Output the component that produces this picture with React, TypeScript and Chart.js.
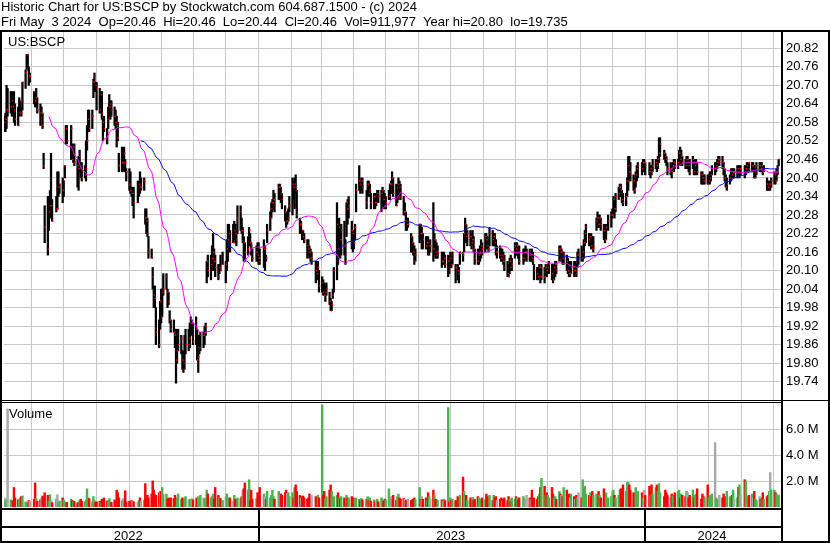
import React, { useEffect, useRef } from 'react';
import { Chart, registerables } from 'chart.js';

Chart.register(...registerables);

// ---------------- text ----------------
const TITLE = 'Historic Chart for US:BSCP by Stockwatch.com 604.687.1500 - (c) 2024';
const INFO = 'Fri May  3 2024  Op=20.46  Hi=20.46  Lo=20.44  Cl=20.46  Vol=911,977  Year hi=20.80  lo=19.735';
const SYMBOL = 'US:BSCP';
const VOLUME_LABEL = 'Volume';
const YEARS = ['2022', '2023', '2024'];

// ---------------- calendar ----------------
const FIRST_DAY = '2022-05-03';
const LAST_DAY = '2024-05-03';
const HOLIDAYS = [
  '2022-05-30', '2022-06-20', '2022-07-04', '2022-09-05', '2022-11-24', '2022-12-26',
  '2023-01-02', '2023-01-16', '2023-02-20', '2023-04-07', '2023-05-29', '2023-06-19',
  '2023-07-04', '2023-09-04', '2023-11-23', '2023-12-25',
  '2024-01-01', '2024-01-15', '2024-02-19', '2024-03-29',
];
const MONTHS = [
  '2022-05', '2022-06', '2022-07', '2022-08', '2022-09', '2022-10', '2022-11', '2022-12',
  '2023-01', '2023-02', '2023-03', '2023-04', '2023-05', '2023-06', '2023-07', '2023-08',
  '2023-09', '2023-10', '2023-11', '2023-12', '2024-01', '2024-02', '2024-03', '2024-04', '2024-05',
];

// ---------------- daily data, one row per month (prices in cents) ----------------
const highs: number[][] = [
  [2060,2061,2070,2069,2068,2068,2067,2068,2064,2063,2066,2065,2063,2071,2075,2080,2080,2076,2074,2068],
  [2068,2069,2066,2064,2063,2061,2048,2031,2034,2034,2036,2048,2033,2034,2042,2042,2038,2040,2039,2044,2057],
  [2057,2057,2051,2051,2051,2046,2047,2049,2045,2045,2044,2052,2057,2062,2062,2062,2072,2074,2071,2071],
  [2069,2068,2068,2060,2060,2056,2063,2067,2065,2065,2063,2062,2060,2058,2048,2050,2047,2050,2046,2043,2043,2042,2037],
  [2037,2037,2039,2039,2042,2040,2040,2030,2030,2027,2021,2017,2011,2005,2005,1998,1994,2000,2004,2004,2009],
  [2009,2004,2003,1997,1994,1994,1991,1991,1990,1991,1989,1984,1984,1989,1991,1991,1993,1995,1994,1993,1995],
  [1991,1989,1989,1990,1990,1992,1993,2013,2015,2015,2018,2022,2017,2015,2012,2012,2015,2016,2013,2020,2025],
  [2025,2023,2025,2026,2025,2023,2031,2031,2027,2024,2021,2019,2021,2024,2022,2019,2017,2018,2019,2019,2017],
  [2020,2018,2015,2025,2029,2032,2033,2036,2035,2038,2038,2037,2035,2031,2029,2029,2030,2034,2040,2039],
  [2040,2041,2036,2027,2026,2023,2023,2022,2020,2020,2018,2017,2016,2013,2012,2013,2010,2008,2007],
  [2006,2005,2006,2003,2001,2000,2004,2011,2032,2023,2027,2022,2025,2026,2020,2032,2033,2034,2026,2023,2023,2025,2038],
  [2044,2039,2040,2040,2036,2039,2039,2038,2035,2035,2035,2034,2036,2036,2036,2037,2036,2035,2034],
  [2036,2038,2039,2042,2040,2038,2036,2040,2039,2038,2034,2032,2029,2027,2027,2022,2021,2019,2018,2017,2025,2025],
  [2024,2022,2021,2021,2021,2019,2020,2032,2022,2020,2019,2018,2016,2015,2016,2015,2015,2014,2016,2015,2016],
  [2012,2012,2011,2016,2016,2022,2027,2025,2023,2023,2022,2023,2021,2017,2017,2016,2018,2020,2019,2022],
  [2022,2021,2020,2024,2023,2022,2022,2020,2018,2018,2017,2017,2016,2015,2013,2012,2014,2015,2014,2019,2019,2019,2018],
  [2018,2017,2017,2018,2017,2017,2016,2017,2016,2012,2011,2011,2012,2011,2012,2011,2012,2011,2012,2013],
  [2012,2011,2012,2013,2013,2018,2018,2017,2016,2016,2015,2014,2013,2012,2013,2013,2013,2012,2016,2017,2018,2017],
  [2020,2023,2025,2022,2022,2022,2021,2021,2027,2029,2028,2028,2027,2025,2024,2025,2028,2029,2030,2034,2033],
  [2035,2037,2038,2038,2036,2035,2035,2040,2047,2047,2045,2041,2040,2042,2044,2045,2045,2046,2046,2045],
  [2045,2044,2044,2046,2046,2046,2047,2053,2053,2049,2048,2047,2045,2045,2044,2045,2046,2046,2046,2049,2050],
  [2049,2047,2046,2047,2047,2046,2046,2047,2046,2045,2046,2045,2042,2042,2041,2041,2041,2041,2042,2042],
  [2044,2045,2045,2046,2047,2047,2047,2045,2043,2041,2040,2041,2043,2043,2043,2043,2044,2044,2044,2044],
  [2044,2044,2045,2045,2045,2045,2045,2044,2043,2045,2045,2045,2045,2044,2044,2040,2039,2039,2039,2040,2042,2041],
  [2043,2044,2046],
];
const lows: number[][] = [
  [2055,2055,2056,2060,2061,2060,2060,2058,2057,2057,2060,2062,2060,2062,2069,2075,2076,2070,2071,2064],
  [2063,2063,2061,2057,2060,2056,2043,2019,2015,2023,2027,2029,2026,2029,2030,2034,2035,2032,2034,2040,2051],
  [2051,2046,2046,2045,2044,2037,2036,2042,2040,2039,2040,2039,2049,2056,2055,2056,2066,2068,2068,2062],
  [2061,2061,2059,2052,2055,2051,2056,2060,2059,2060,2057,2056,2050,2052,2042,2042,2042,2043,2042,2039,2036,2035,2034],
  [2031,2027,2032,2034,2035,2036,2036,2025,2022,2021,2014,2014,2004,1998,1998,1986,1985,1991,1993,1995,2002],
  [2004,1998,1999,1993,1990,1990,1985,1973.5,1980,1984,1983,1978,1977,1978,1983,1984,1985,1989,1991,1986,1986],
  [1981,1977,1983,1984,1985,1986,1989,2006,2008,2007,2010,2012,2010,2008,2007,2009,2010,2012,2006,2010,2013],
  [2017,2016,2019,2020,2019,2018,2022,2023,2022,2019,2013,2013,2015,2018,2018,2015,2013,2013,2013,2012,2012],
  [2011,2010,2013,2019,2023,2027,2029,2030,2029,2033,2033,2032,2030,2026,2024,2025,2026,2029,2028,2033],
  [2030,2035,2027,2022,2022,2020,2020,2019,2014,2015,2014,2013,2012,2006,2007,2008,2003,2003,2002],
  [2002,2000,2002,1999,1997,1997,2001,2003,2007,2012,2015,2014,2015,2015,2012,2021,2025,2027,2017,2016,2017,2020,2029],
  [2036,2035,2036,2035,2030,2034,2034,2034,2030,2030,2030,2031,2032,2032,2029,2031,2030,2030,2030],
  [2033,2033,2035,2035,2034,2031,2032,2033,2034,2033,2028,2028,2023,2023,2024,2016,2016,2015,2012,2013,2019,2020],
  [2017,2017,2017,2017,2015,2015,2016,2013,2015,2014,2014,2014,2011,2012,2012,2011,2008,2009,2011,2011,2012],
  [2006,2007,2006,2012,2013,2016,2020,2019,2018,2018,2017,2018,2016,2012,2012,2012,2013,2014,2015,2016],
  [2017,2017,2016,2018,2018,2018,2018,2015,2014,2014,2013,2013,2012,2010,2008,2008,2009,2010,2010,2014,2015,2015,2014],
  [2012,2012,2013,2014,2013,2013,2013,2013,2012,2007,2007,2007,2008,2006,2007,2006,2008,2008,2009,2009],
  [2007,2006,2007,2008,2009,2013,2014,2013,2012,2012,2010,2009,2008,2008,2009,2008,2009,2008,2011,2012,2013,2013],
  [2014,2018,2019,2018,2018,2017,2017,2016,2023,2024,2024,2024,2023,2020,2019,2020,2023,2024,2027,2028,2027],
  [2029,2033,2034,2034,2032,2031,2031,2034,2036,2040,2039,2036,2035,2037,2039,2040,2041,2042,2042,2041],
  [2041,2040,2041,2042,2043,2042,2043,2045,2047,2046,2045,2044,2041,2041,2040,2042,2042,2043,2043,2045,2044],
  [2045,2044,2043,2043,2043,2042,2041,2043,2041,2041,2042,2041,2038,2038,2038,2038,2038,2038,2038,2039],
  [2041,2041,2042,2043,2044,2044,2043,2041,2039,2037,2036,2038,2039,2040,2040,2040,2040,2041,2040,2041],
  [2040,2041,2042,2042,2042,2042,2042,2040,2040,2041,2042,2042,2042,2041,2042,2036,2036,2036,2036,2037,2038,2038],
  [2039,2041,2044],
];
const closes: number[][] = [
  [2058,2059,2062,2062,2063,2065,2063,2062,2059,2057,2061,2065,2061,2071,2074,2075,2080,2073,2073,2068],
  [2065,2066,2062,2061,2061,2057,2044,2024,2017,2029,2031,2031,2026,2030,2030,2037,2038,2036,2039,2044,2056],
  [2052,2056,2046,2050,2045,2044,2043,2047,2043,2040,2041,2043,2052,2059,2056,2060,2071,2073,2070,2069],
  [2062,2067,2061,2058,2056,2053,2059,2063,2064,2062,2060,2058,2057,2053,2044,2045,2045,2048,2045,2042,2038,2036,2035],
  [2035,2032,2032,2038,2037,2037,2039,2027,2026,2022,2016,2014,2008,2002,2001,1990,1986,2000,1995,2003,2004],
  [2008,2003,2000,1994,1991,1990,1989,1981,1984,1986,1988,1981,1978,1980,1986,1986,1988,1993,1993,1987,1991],
  [1981,1982,1985,1989,1989,1990,1992,2013,2010,2012,2014,2016,2013,2011,2008,2011,2010,2012,2012,2017,2020],
  [2022,2019,2019,2023,2022,2020,2027,2029,2023,2023,2019,2016,2017,2023,2019,2018,2014,2016,2015,2014,2013],
  [2017,2017,2014,2023,2027,2030,2032,2033,2031,2037,2037,2035,2033,2029,2026,2026,2027,2031,2038,2037],
  [2038,2036,2028,2025,2025,2023,2021,2020,2018,2017,2016,2014,2014,2010,2009,2011,2005,2006,2003],
  [2002,2003,2004,2000,1997,1999,2002,2010,2025,2017,2024,2020,2023,2018,2015,2032,2030,2031,2023,2022,2019,2024,2036],
  [2039,2038,2039,2037,2032,2038,2035,2036,2032,2034,2032,2032,2035,2034,2035,2036,2033,2031,2032],
  [2034,2038,2038,2040,2035,2031,2034,2038,2037,2034,2029,2029,2026,2025,2025,2021,2019,2016,2013,2015,2025,2022],
  [2022,2020,2018,2019,2015,2018,2018,2017,2020,2016,2015,2016,2013,2013,2014,2012,2013,2010,2014,2012,2015],
  [2011,2010,2009,2016,2015,2022,2025,2021,2022,2021,2019,2020,2017,2014,2013,2015,2016,2018,2017,2021],
  [2020,2018,2017,2022,2020,2021,2019,2016,2016,2015,2014,2015,2013,2011,2009,2008,2013,2011,2012,2018,2017,2018,2016],
  [2013,2014,2016,2016,2016,2015,2015,2014,2013,2010,2009,2008,2011,2008,2011,2008,2011,2010,2011,2012],
  [2009,2007,2011,2012,2010,2017,2016,2016,2014,2015,2013,2010,2009,2009,2011,2010,2010,2009,2015,2015,2014,2016],
  [2019,2022,2024,2020,2021,2018,2017,2018,2026,2027,2025,2027,2025,2023,2020,2024,2026,2028,2028,2033,2030],
  [2034,2035,2037,2036,2033,2032,2034,2039,2044,2042,2041,2039,2036,2041,2043,2044,2043,2045,2045,2044],
  [2042,2043,2042,2044,2045,2044,2046,2048,2051,2048,2047,2046,2043,2043,2042,2044,2045,2044,2045,2048,2046],
  [2047,2045,2044,2046,2046,2044,2042,2046,2042,2044,2045,2042,2041,2040,2039,2040,2038,2039,2040,2041],
  [2043,2043,2044,2045,2046,2046,2045,2043,2040,2037,2038,2040,2042,2041,2042,2042,2043,2042,2043,2043],
  [2042,2043,2044,2045,2043,2044,2044,2040,2042,2044,2044,2043,2044,2042,2043,2038,2037,2038,2038,2039,2041,2039],
  [2042,2043,2046],
];
// volume in thousands of shares
const volumes: number[][] = [
  [700,450,600,7550,550,500,450,1500,700,550,600,700,800,850,400,300,350,500,450,600],
  [1850,650,450,550,700,850,700,1100,900,450,950,400,350,600,950,350,450,700,550,400,350],
  [350,600,500,400,450,300,350,500,600,450,400,550,1400,700,650,400,800,500,350,400],
  [450,350,600,400,700,450,500,650,400,350,550,400,1300,1100,700,500,650,450,1250,400,450,300,500],
  [450,400,350,500,700,450,500,1800,650,900,700,1000,2000,1300,950,900,1100,1200,1200,1500,950],
  [1000,600,700,550,700,650,900,700,650,1000,600,700,650,700,800,550,600,500,650,550,700],
  [650,800,700,900,700,600,650,1300,1000,700,800,1000,600,1500,900,700,650,500,800,1000,700],
  [550,700,450,900,600,500,700,650,800,1300,1400,1850,1300,2100,500,1300,600,650,1100,950,1500],
  [1000,800,600,1200,700,900,1300,800,600,1200,900,1000,900,1100,1300,1050,1100,800,1100,700],
  [1500,1700,1200,900,700,800,850,700,600,700,1000,700,900,800,650,900,700,7850,900],
  [1200,600,800,1300,1700,1200,700,800,900,1100,700,650,800,700,650,900,700,700,800,700,650,600,700],
  [600,500,650,550,600,800,500,700,450,550,400,500,600,400,700,500,450,600,550],
  [1400,700,800,600,900,500,800,1000,700,600,650,600,500,450,600,500,550,600,700,550,1500,600],
  [800,600,700,500,1100,800,600,1300,900,600,550,500,550,450,600,500,7650,400,700,500,600],
  [500,800,700,900,2300,1200,700,900,500,700,600,750,500,600,800,700,500,600,700,550],
  [1000,800,700,900,500,900,700,800,500,600,700,450,600,700,500,800,600,400,700,600,800,700,500],
  [700,800,600,500,900,700,600,1300,500,700,600,800,1000,1500,2200,1600,900,1100,900,700],
  [1500,1000,700,800,600,1200,1000,900,800,1500,1300,900,1000,700,1000,800,600,900,700,1100,700,2100],
  [1300,1600,1000,900,1100,800,1200,900,1000,800,1200,900,700,1400,800,1100,700,800,1200,1300,900],
  [700,900,1300,1400,1100,1700,1200,1900,1900,1700,1300,1100,1000,1500,900,1200,1100,700,1300,900],
  [1600,900,1700,1000,1500,1700,1200,1800,1100,800,1300,1100,900,700,1000,800,900,1100,1200,1300,700],
  [1000,900,800,1200,1100,700,900,1300,700,900,1000,1400,600,1000,800,700,1700,700,900,600],
  [1000,4950,700,600,500,900,700,1000,600,800,1200,800,700,900,1300,600,700,1500,1700,900],
  [2100,2000,700,800,900,1000,700,1200,600,500,800,600,700,1100,600,800,900,1200,2650,1300,1300,1100],
  [1000,800,912],
];

const PRICE_TICKS = [19.74, 19.8, 19.86, 19.92, 19.98, 20.04, 20.1, 20.16, 20.22, 20.28, 20.34, 20.4, 20.46, 20.52, 20.58, 20.64, 20.7, 20.76, 20.82];
const VOLUME_TICKS = [2, 4, 6]; // millions
const FAST_MA = 30;
const SLOW_MA = 90;

// ---------------- styling / layout ----------------
const FONT = '"Liberation Sans", Arial, Helvetica, sans-serif';
const GRID = '#c8c8c8';
const UP = '#4cb34c';
const DOWN = '#ff0000';
const FLAT = '#a9a9a9';
const X_MIN = -243.4;
const X_MAX = 490.2;
const PRICE_MAX = 20.8728;
const PRICE_MIN = 19.6742;
const VOLUME_MAX = 8.077e6;
const GRID_LEAD = 3.1; // month rule drawn slightly before the 1st
const CLOSE_SHIFT = 0.6;

const DAY_MS = 86400000;
const EPOCH = Date.UTC(2023, 0, 1);
const parseDate = (s: string) => {
  const [y, m, d] = s.split('-').map(Number);
  return Date.UTC(y, m - 1, d);
};
const dayNum = (t: number) => Math.round((t - EPOCH) / DAY_MS);

type Row = { x: number; h: number; l: number; c: number; cc: number; v: number };

function buildRows(): Row[] {
  const start = parseDate(FIRST_DAY);
  const end = parseDate(LAST_DAY);
  const hol = new Set(HOLIDAYS.map(parseDate));
  const rows: Row[] = [];
  MONTHS.forEach((ym, mi) => {
    const [y, m] = ym.split('-').map(Number);
    const dim = new Date(Date.UTC(y, m, 0)).getUTCDate();
    const days: number[] = [];
    for (let d = 1; d <= dim; d++) {
      const t = Date.UTC(y, m - 1, d);
      const wd = new Date(t).getUTCDay();
      if (wd === 0 || wd === 6 || t < start || t > end || hol.has(t)) continue;
      days.push(dayNum(t));
    }
    const n = Math.min(days.length, closes[mi].length);
    for (let j = 0; j < n; j++) {
      rows.push({
        x: days[j],
        h: highs[mi][j] / 100,
        l: lows[mi][j] / 100,
        c: closes[mi][j] / 100,
        cc: closes[mi][j],
        v: volumes[mi][j] * 1000,
      });
    }
  });
  return rows;
}

function monthTicks(): { value: number; jan: boolean }[] {
  return MONTHS.slice(1).map((ym) => {
    const [y, m] = ym.split('-').map(Number);
    return { value: dayNum(Date.UTC(y, m - 1, 1)) - GRID_LEAD, jan: m === 1 };
  });
}

function sma(rows: Row[], n: number) {
  const out: { x: number; y: number }[] = [];
  let sum = 0;
  for (let i = 0; i < rows.length; i++) {
    sum += rows[i].c;
    if (i >= n) sum -= rows[i - n].c;
    if (i >= n - 1) out.push({ x: rows[i].x, y: sum / n });
  }
  return out;
}

export default function App() {
  const ref = useRef<HTMLCanvasElement>(null);

  useEffect(() => {
    const canvas = ref.current;
    if (!canvas) return;
    const rows = buildRows();
    const ticks = monthTicks();
    const yearStarts = ticks.filter((t) => t.jan).map((t) => t.value);
    const volColors = rows.map((r, i) =>
      i === 0 ? FLAT : r.cc > rows[i - 1].cc ? UP : r.cc < rows[i - 1].cc ? DOWN : FLAT
    );

    const framePlugin = {
      id: 'frame',
      afterDraw(chart: any) {
        const ctx = chart.ctx as CanvasRenderingContext2D;
        const xs = chart.scales.x;
        const area = chart.chartArea;
        const W = chart.width;
        ctx.save();
        ctx.fillStyle = '#000';
        ctx.fillRect(0, 30, W, 2);
        ctx.fillRect(0, 30, 2, 513);
        ctx.fillRect(area.right, 30, 2, 513);
        ctx.fillRect(W - 2, 30, 2, 513);
        ctx.fillRect(0, 400, W, 1);
        ctx.fillRect(0, 402, area.right, 1);
        ctx.fillRect(0, 508, area.right, 2);
        ctx.fillRect(0, 526, area.right, 2);
        ctx.fillRect(0, 541, W, 2);
        const seps = yearStarts.map((v) => xs.getPixelForValue(v));
        seps.forEach((px) => ctx.fillRect(Math.round(px) - 1, 510, 2, 31));
        const bounds = [0, ...seps, area.right];
        ctx.font = `13px ${FONT}`;
        ctx.textAlign = 'center';
        ctx.textBaseline = 'alphabetic';
        YEARS.forEach((yr, i) => ctx.fillText(yr, (bounds[i] + bounds[i + 1]) / 2 - 1, 540));
        ctx.restore();
      },
    };

    const tickFont = { family: FONT, size: 13 };

    const chart = new Chart(canvas, {
      type: 'bar',
      data: {
        datasets: [
          {
            type: 'line',
            label: 'MA30',
            data: sma(rows, FAST_MA),
            borderColor: '#ff00ff',
            borderWidth: 1,
            pointRadius: 0,
            tension: 0,
            yAxisID: 'y',
            order: 0,
          } as any,
          {
            type: 'line',
            label: 'MA90',
            data: sma(rows, SLOW_MA),
            borderColor: '#0000ff',
            borderWidth: 1,
            pointRadius: 0,
            tension: 0,
            yAxisID: 'y',
            order: 0,
          } as any,
          {
            type: 'scatter',
            label: 'Close',
            data: rows.map((r) => ({ x: r.x + CLOSE_SHIFT, y: r.c })),
            pointStyle: 'rect',
            pointRadius: 1.0,
            pointBorderWidth: 0,
            pointBackgroundColor: '#ff0000',
            backgroundColor: '#ff0000',
            showLine: false,
            yAxisID: 'y',
            order: 1,
          } as any,
          {
            type: 'bar',
            label: 'Range',
            data: rows.map((r) => ({ x: r.x, y: [r.l, r.h] })),
            backgroundColor: '#000000',
            barThickness: 1.6,
            grouped: false,
            yAxisID: 'y',
            order: 2,
          } as any,
          {
            type: 'bar',
            label: 'Volume',
            data: rows.map((r) => ({ x: r.x, y: r.v })),
            backgroundColor: volColors,
            barThickness: 1.8,
            grouped: false,
            yAxisID: 'yv',
            order: 3,
          } as any,
        ],
      },
      options: {
        responsive: false,
        maintainAspectRatio: false,
        animation: false,
        devicePixelRatio: 1,
        events: [],
        layout: { padding: { left: 2, top: 32, right: 0, bottom: 36 } },
        plugins: {
          legend: { display: false },
          tooltip: { enabled: false },
          title: { display: false },
        },
        scales: {
          x: {
            type: 'linear',
            position: 'bottom',
            min: X_MIN,
            max: X_MAX,
            offset: false,
            grid: { color: GRID, lineWidth: 1, drawTicks: false, offset: false },
            border: { display: false },
            ticks: { display: false },
            afterBuildTicks: (s: any) => {
              s.ticks = ticks.map((t) => ({ value: t.value }));
            },
            afterFit: (s: any) => {
              s.height = 0;
            },
          },
          y: {
            type: 'linear',
            position: 'right',
            stack: 'panels',
            stackWeight: 370,
            weight: 0,
            min: PRICE_MIN,
            max: PRICE_MAX,
            beginAtZero: false,
            grid: { color: GRID, lineWidth: 1, drawTicks: false },
            border: { display: false },
            ticks: {
              autoSkip: false,
              padding: 5,
              color: '#000',
              font: tickFont,
              callback: (v: any) => Number(v).toFixed(2),
            },
            afterBuildTicks: (s: any) => {
              s.ticks = PRICE_TICKS.map((v) => ({ value: v }));
            },
            afterFit: (s: any) => {
              s.width = 49;
            },
          },
          yv: {
            type: 'linear',
            position: 'right',
            stack: 'panels',
            stackWeight: 105,
            weight: 1,
            min: 0,
            max: VOLUME_MAX,
            grid: { color: GRID, lineWidth: 1, drawTicks: false },
            border: { display: false },
            ticks: {
              autoSkip: false,
              padding: 5,
              color: '#000',
              font: tickFont,
              callback: (v: any) => (Number(v) / 1e6).toFixed(1) + ' M',
            },
            afterBuildTicks: (s: any) => {
              s.ticks = VOLUME_TICKS.map((v) => ({ value: v * 1e6 }));
            },
            afterFit: (s: any) => {
              s.width = 49;
            },
          },
        },
      } as any,
      plugins: [framePlugin],
    });

    return () => chart.destroy();
  }, []);

  const text: React.CSSProperties = {
    position: 'absolute',
    fontFamily: FONT,
    fontSize: 13,
    lineHeight: '15px',
    color: '#000',
    whiteSpace: 'pre',
  };

  return (
    <div style={{ position: 'absolute', left: 0, top: 0, width: 830, height: 543, background: '#fff', overflow: 'hidden' }}>
      <canvas ref={ref} width={830} height={543} style={{ position: 'absolute', left: 0, top: 0, width: 830, height: 543 }} />
      <div style={{ ...text, left: 1, top: -1 }}>{TITLE}</div>
      <div style={{ ...text, left: 1, top: 14 }}>{INFO}</div>
      <div style={{ ...text, left: 8, top: 34 }}>{SYMBOL}</div>
      <div style={{ ...text, left: 9, top: 406 }}>{VOLUME_LABEL}</div>
    </div>
  );
}
